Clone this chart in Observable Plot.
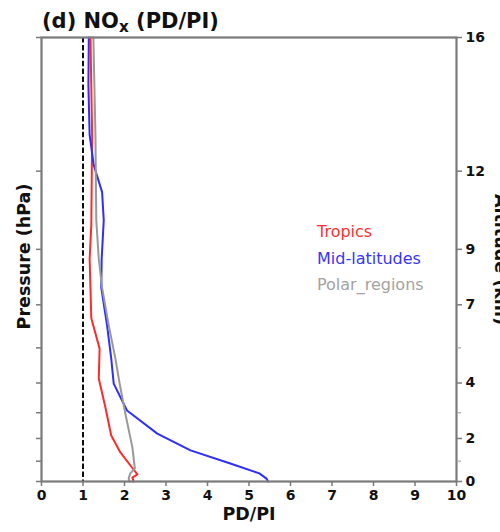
<!DOCTYPE html>
<html><head><meta charset="utf-8">
<script src="https://cdn.jsdelivr.net/npm/d3@7"></script>
<script src="https://cdn.jsdelivr.net/npm/@observablehq/plot@0.6"></script>
<style>
body{margin:0;background:#fff;}
#wrap{position:relative;width:500px;height:532px;overflow:hidden;font-family:"DejaVu Sans",sans-serif;}
#wrap svg{position:absolute;left:0;top:0;}
#title{position:absolute;left:42px;top:11px;font-size:21px;font-weight:bold;line-height:1;white-space:nowrap;color:#111;}
#title sub{font-size:0.72em;vertical-align:-0.28em;line-height:0;}
#legend{position:absolute;left:317px;top:219px;font-size:16px;line-height:26.5px;white-space:nowrap;}
</style></head><body>
<div id="wrap"></div>
<script>
// ---- data ----
const seriesNames = ["Tropics", "Mid-latitudes", "Polar_regions"];
const seriesColors = ["#ff2a2a", "#2e2eff", "#999999"];
const legendColors = ["#ff3030", "#3535ff", "#a3a3a3"];

const tropicsP = [100, 166, 265, 315, 429, 502, 586, 681, 788, 860, 930, 964, 980, 1000];
const tropicsV = [1.18, 1.22, 1.20, 1.16, 1.20, 1.40, 1.38, 1.54, 1.68, 1.90, 2.18, 2.31, 2.19, 2.22];

const midlatP = [100, 128, 166, 194, 223, 258, 315, 366, 445, 528, 602, 692, 780, 851, 911, 959, 985, 1000];
const midlatV = [1.14, 1.13, 1.16, 1.26, 1.46, 1.50, 1.45, 1.44, 1.58, 1.68, 1.74, 2.06, 2.79, 3.59, 4.55, 5.25, 5.42, 5.46];

const polarP = [100, 166, 258, 315, 366, 445, 528, 600, 703, 838, 935, 959, 985, 1000];
const polarV = [1.25, 1.30, 1.32, 1.38, 1.46, 1.62, 1.78, 1.88, 2.02, 2.19, 2.25, 2.14, 2.10, 2.12];

const xTicks = [0, 1, 2, 3, 4, 5, 6, 7, 8, 9, 10];
const pressureTicks = [100, 200, 300, 400, 500, 600, 700, 800, 900, 1000];
const altitudeTickP = [100, 200, 300, 400, 600, 800, 1000];
const altitudeLabels = ["16", "12", "9", "7", "4", "2", "0"];
const altitudeMinorP = [500, 700, 900];
const refLine = [1];

// ---- build table ----
const pArrays = [tropicsP, midlatP, polarP];
const vArrays = [tropicsV, midlatV, polarV];
const rows = [];
seriesNames.forEach((s, k) => pArrays[k].forEach((p, i) => rows.push({series: s, p, v: vArrays[k][i]})));
const altMap = new Map(altitudeTickP.map((p, i) => [p, altitudeLabels[i]]));

const axisColor = "#7a7a7a";
const chart = Plot.plot({
  width: 500, height: 532,
  marginTop: 37, marginBottom: 51, marginLeft: 41, marginRight: 44,
  style: {fontFamily: "DejaVu Sans, sans-serif", fontSize: "14px", color: "#111", background: "white"},
  x: {domain: [0, 10], label: null},
  y: {type: "log", domain: [1000, 100], label: null},
  color: {domain: seriesNames, range: seriesColors},
  marks: [
    Plot.ruleX(refLine, {x: d => d, stroke: "black", strokeWidth: 1.9, strokeDasharray: "5.5,2.4"}),
    Plot.line(rows, {x: "v", y: "p", z: "series", stroke: "series", strokeWidth: 2, curve: "linear"}),
    Plot.frame({stroke: axisColor, strokeWidth: 2.2}),
    Plot.axisX({ticks: xTicks, tickSize: 5, tickPadding: 4, stroke: axisColor, strokeWidth: 1.5, fontWeight: "bold", fontSize: 14, label: null, tickFormat: d => String(d)}),
    Plot.axisY({anchor: "left", ticks: pressureTicks, tickSize: 5, stroke: axisColor, strokeWidth: 1.5, tickFormat: () => "", label: null}),
    Plot.axisY({anchor: "right", ticks: altitudeTickP, tickSize: 5, tickPadding: 4, stroke: axisColor, strokeWidth: 1.5, fontWeight: "bold", fontSize: 14, tickFormat: p => altMap.get(p), label: null}),
    Plot.axisY({anchor: "right", ticks: altitudeMinorP, tickSize: 4, stroke: "#aaa", strokeWidth: 1.2, tickFormat: () => "", label: null}),
    Plot.text(["PD/PI"], {frameAnchor: "bottom", text: d => d, dy: 38, fontWeight: "bold", fontSize: 17.5}),
    Plot.text(["Pressure (hPa)"], {frameAnchor: "left", textAnchor: "middle", text: d => d, rotate: -90, dx: -17, dy: -3, fontWeight: "bold", fontSize: 17.5}),
    Plot.text(["Altitude (km)"], {frameAnchor: "right", textAnchor: "middle", text: d => d, rotate: 90, dx: 44, fontWeight: "bold", fontSize: 17.5})
  ]
});
const wrap = document.getElementById("wrap");
wrap.appendChild(chart);
const title = document.createElement("div");
title.id = "title";
title.innerHTML = "(d) NO<sub>x</sub> (PD/PI)";
wrap.appendChild(title);
const legend = document.createElement("div");
legend.id = "legend";
seriesNames.forEach((s, i) => {
  const d = document.createElement("div");
  d.textContent = s;
  d.style.color = legendColors[i];
  legend.appendChild(d);
});
wrap.appendChild(legend);
</script>
</body></html>
